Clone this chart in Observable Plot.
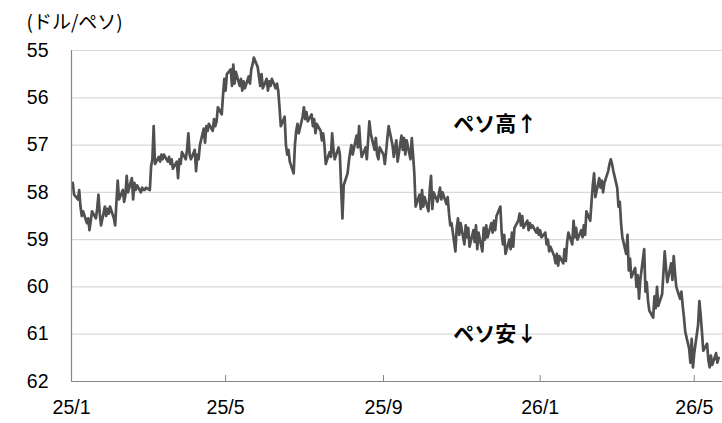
<!DOCTYPE html>
<html><head><meta charset="utf-8">
<script src="https://cdn.jsdelivr.net/npm/d3@7"></script>
<script src="https://cdn.jsdelivr.net/npm/@observablehq/plot@0.6"></script>
<style>body{margin:0;background:#fff} #chart{width:722px;height:423px}</style>
</head><body><div id="chart"></div>
<script>
// USD/PHP daily rate (peso per dollar), business days from startDate
const startDate = "2025-01-02";
const rates = [
  57.8, 58.05, 58.15, 57.95, 58.3, 58.5, 58.4, 58.65, 58.55, 58.8,
  58.6, 58.4, 58.55, 58.35, 58.05, 58.45, 58.7, 58.3, 58.5, 58.35,
  58.45, 58.3, 58.55, 58.7, 58.2, 57.75, 58.15, 57.95, 58.2, 58.05,
  57.65, 58.0, 57.7, 58.15, 57.8, 57.95, 57.85, 58.0, 57.9, 57.95,
  57.95, 57.9, 57.95, 57.45, 57.3, 56.6, 57.4, 57.25, 57.35, 57.2,
  57.3, 57.2, 57.35, 57.25, 57.4, 57.3, 57.5, 57.35, 57.7, 57.3,
  57.4, 57.15, 57.3, 57.1, 56.75, 57.2, 57.3, 57.1, 57.55, 57.2,
  57.3, 57.0, 56.65, 56.95, 56.6, 56.7, 56.55, 56.7, 56.45, 56.6,
  56.5, 56.2, 56.35, 55.95, 55.6, 55.85, 55.5, 55.4, 55.75, 55.3,
  55.7, 55.45, 55.75, 55.6, 55.85, 55.65, 55.8, 55.55, 55.7, 55.4,
  55.3, 55.15, 55.35, 55.55, 55.75, 55.5, 55.8, 55.6, 55.85, 55.65,
  55.75, 55.6, 55.8, 55.7, 55.85, 56.2, 56.6, 56.4, 57.0, 57.2,
  57.1, 57.35, 57.6, 57.0, 56.7, 56.55, 56.75, 56.4, 56.2, 56.45,
  56.3, 56.5, 56.35, 56.6, 56.45, 56.75, 56.55, 56.7, 56.9, 56.75,
  57.0, 57.4, 57.15, 57.25, 56.75, 57.1, 57.3, 57.05, 57.2, 57.9,
  58.55, 57.85, 57.6, 57.35, 57.15, 57.0, 57.2, 56.8, 57.05, 56.6,
  57.0, 57.25, 57.05, 57.3, 56.9, 56.5, 56.75, 57.1, 56.85, 57.2,
  57.3, 57.05, 57.2, 57.4, 57.15, 56.85, 56.6, 57.0, 57.25, 57.05,
  56.9, 57.35, 56.8, 57.1, 56.85, 57.2, 56.9, 57.3, 56.85, 57.2,
  57.6, 58.3, 58.05, 58.35, 57.95, 58.3, 58.1, 58.4, 57.95, 57.65,
  58.35, 58.0, 58.2, 58.05, 57.9, 58.15, 58.0, 58.25, 58.1, 58.45,
  58.7, 58.65, 59.25, 58.75, 58.55, 58.9, 58.65, 59.1, 58.7, 58.95,
  58.75, 59.15, 58.8, 59.05, 58.7, 59.2, 58.85, 59.25, 58.75, 59.0,
  58.7, 58.95, 58.65, 58.85, 58.6, 58.8, 58.5, 58.3, 58.85, 59.1,
  58.9, 59.3, 59.0, 59.2, 58.85, 59.15, 58.75, 58.6, 58.45, 58.7,
  58.5, 58.75, 58.6, 58.8, 58.65, 58.75, 58.7, 58.85, 58.75, 58.9,
  58.8, 58.95, 58.85, 59.1, 59.0, 59.25, 59.15, 59.35, 59.5, 59.3,
  59.55, 59.35, 59.5, 59.2, 59.45, 59.05, 58.85, 59.1, 58.6, 58.95,
  58.75, 59.0, 58.8, 58.95, 58.7, 58.9, 58.4, 58.6, 58.2, 57.85,
  57.6, 58.1, 57.7, 57.9, 57.75, 58.0, 57.8, 57.55, 57.4, 57.3,
  57.4, 57.55, 57.9, 58.3, 58.2, 58.65, 58.95, 59.3, 58.9, 59.65,
  59.4, 59.8, 59.6, 60.0, 59.75, 60.25, 59.85, 59.2, 60.1, 59.9,
  60.3, 60.5, 60.65, 60.2, 60.45, 60.0, 60.4, 60.15, 59.7, 59.25,
  59.6, 59.9, 59.5, 59.85, 59.35, 59.7, 60.0, 60.25, 60.1, 60.4,
  60.65, 60.95, 61.3, 61.6, 61.1, 61.7, 61.4, 60.8, 60.3, 60.6,
  60.95, 61.35, 61.2, 61.55, 61.7, 61.45, 61.65, 61.4, 61.6, 61.5
];
const yTicks = [55, 56, 57, 58, 59, 60, 61, 62];
const xTickDates = ["2025-01-01", "2025-05-01", "2025-09-01", "2026-01-01", "2026-05-01"];
const xTickLabels = ["25/1", "25/5", "25/9", "26/1", "26/5"];
const xDomain = ["2025-01-01", "2026-05-23"];
const unitLabel = "(ドル/ペソ)";
const annotations = [
  {date: "2025-11-27", value: 56.55, label: "ペソ高↑"},
  {date: "2025-11-27", value: 61.0, label: "ペソ安↓"}
];

const toDate = s => new Date(s + "T00:00:00Z");
const data = [];
let d = toDate(startDate);
for (const v of rates) {
  while (d.getUTCDay() === 0 || d.getUTCDay() === 6) d = new Date(d.getTime() + 864e5);
  data.push({date: d, value: v});
  d = new Date(d.getTime() + 864e5);
}
const tickDates = xTickDates.map(toDate);
const annData = annotations.map(a => ({...a, date: toDate(a.date)}));

const chart = Plot.plot({
  width: 722, height: 423,
  marginLeft: 71, marginRight: 0, marginTop: 50, marginBottom: 42,
  style: {fontFamily: "'Liberation Sans', 'Noto Sans CJK JP', sans-serif", background: "#fff", color: "#000", overflow: "visible"},
  x: {type: "utc", domain: xDomain.map(toDate)},
  y: {domain: [55, 62], reverse: true},
  marks: [
    Plot.ruleY(yTicks, {stroke: "#d9d9d9", strokeWidth: 1.2}),
    Plot.lineY(data, {x: "date", y: "value", stroke: "#505050", strokeWidth: 2.7, strokeLinejoin: "round"}),
    Plot.ruleY([62], {stroke: "#868686", strokeWidth: 1.2}),
    Plot.ruleX([toDate(xDomain[0])], {stroke: "#868686", strokeWidth: 1.2}),
    Plot.ruleX(tickDates, {stroke: "#868686", strokeWidth: 1, insetTop: 325}),
    Plot.axisY({ticks: yTicks, tickSize: 0, tickPadding: 23, fontSize: 19.5, tickFormat: v => String(v), label: null}),
    Plot.axisX({ticks: tickDates, tickSize: 0, tickPadding: 19, fontSize: 19.5,
      tickFormat: t => xTickLabels[tickDates.findIndex(u => +u === +t)], label: null}),
    Plot.text(annData, {x: "date", y: "value", text: "label", fontSize: 21, fontWeight: "bold",
      fontFamily: "'Noto Sans CJK JP', sans-serif", fill: "#000"}),
    Plot.text([unitLabel], {frameAnchor: "top-left", dx: -45, dy: -22, textAnchor: "start", lineAnchor: "bottom",
      fontSize: 19, fontFamily: "'Noto Sans CJK JP', sans-serif", fill: "#000"})
  ]
});
document.getElementById("chart").appendChild(chart);
</script>
</body></html>
